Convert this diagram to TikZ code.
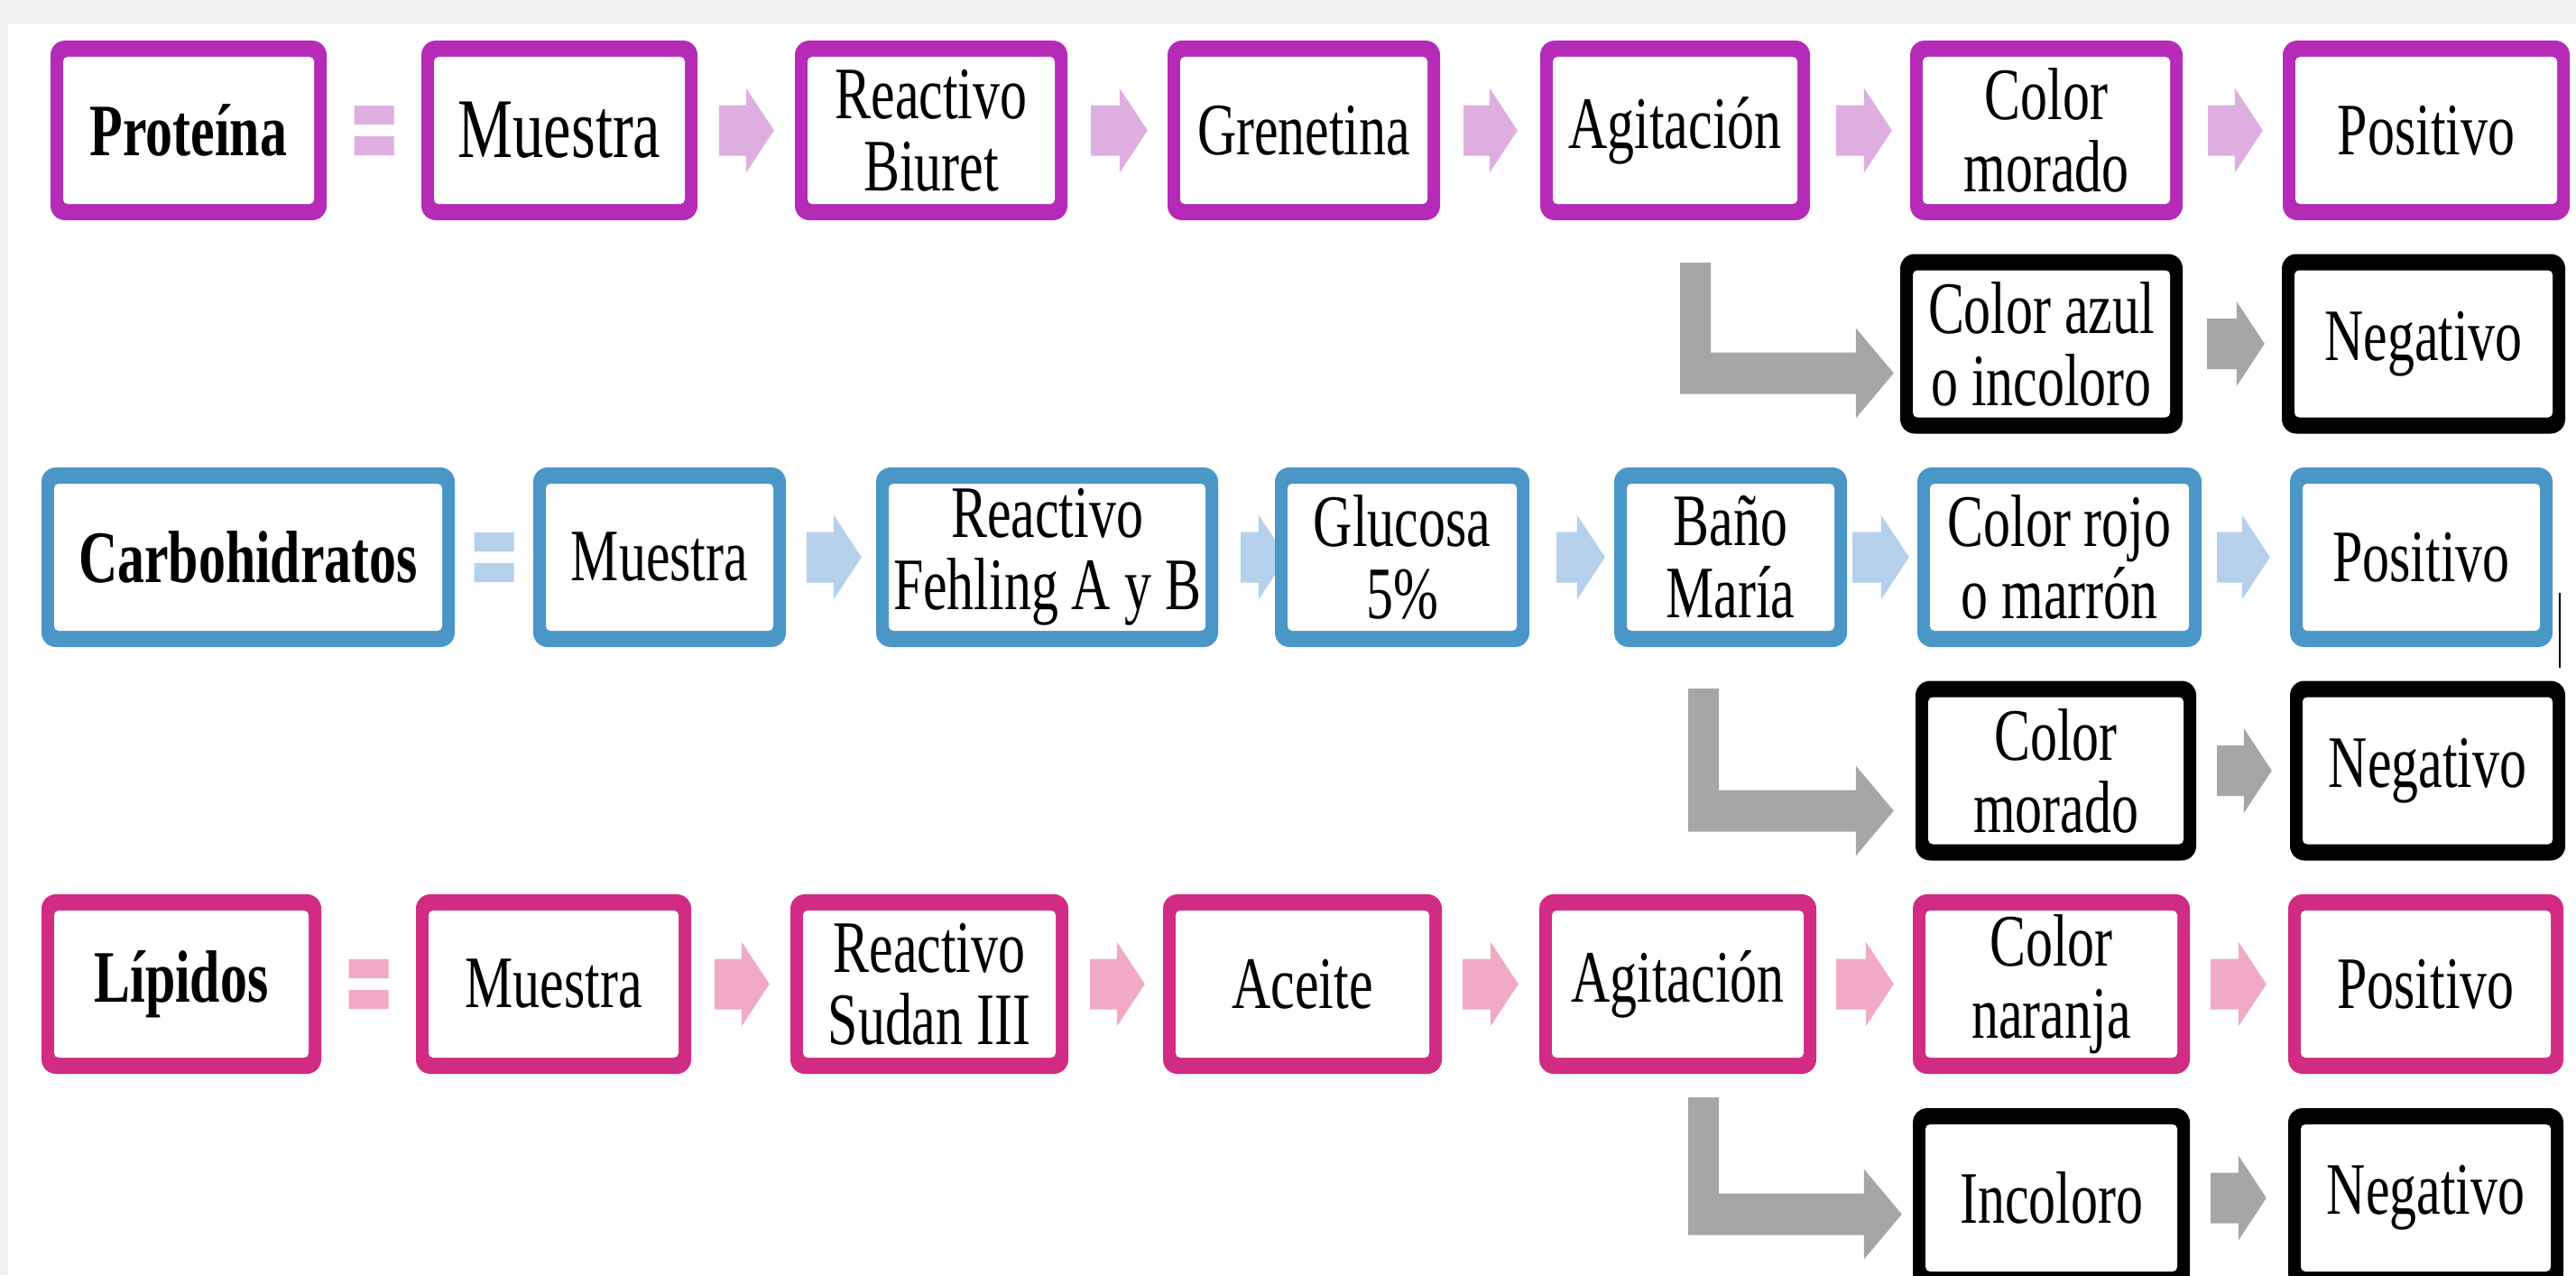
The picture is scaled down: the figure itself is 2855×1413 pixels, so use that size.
\documentclass[tikz,border=0pt]{standalone}
\usepackage{fontspec}
\setmainfont{Liberation Serif}[FakeStretch=0.73]
\usetikzlibrary{calc}
\definecolor{colP}{RGB}{181, 43, 184}
\definecolor{flP}{RGB}{223, 174, 224}
\definecolor{colC}{RGB}{74, 150, 198}
\definecolor{flC}{RGB}{180, 208, 235}
\definecolor{colL}{RGB}{210, 43, 131}
\definecolor{flL}{RGB}{240, 170, 200}
\definecolor{gris}{RGB}{166, 166, 166}
\definecolor{fondo}{RGB}{242, 242, 242}
\pgfdeclarelayer{fondo}
\pgfdeclarelayer{back}
\pgfsetlayers{fondo,back,main}

% flecha gruesa: estilo, desde, hasta
\newcommand{\flecha}[3]{%
  \fill[#1] let \p1=(#2), \p2=(#3) in
    (\x1,\y1+28pt) -- (\x2-31pt,\y1+28pt) -- (\x2-31pt,\y1+47pt) -- (\x2,\y2)
    -- (\x2-31pt,\y1-47pt) -- (\x2-31pt,\y1-28pt) -- (\x1,\y1-28pt) -- cycle;}
% flecha en L: estilo, esquina, punta
\newcommand{\flechaL}[3]{%
  \fill[#1] let \p1=(#2), \p2=(#3) in
    (\x1,\y1) -- (\x1+34pt,\y1) -- (\x1+34pt,\y2+23pt) -- (\x2-42pt,\y2+23pt)
    -- (\x2-42pt,\y2+50pt) -- (\x2,\y2) -- (\x2-42pt,\y2-50pt)
    -- (\x2-42pt,\y2-23pt) -- (\x1,\y2-23pt) -- cycle;}
% signo igual entre dos cajas
\newcommand{\igual}[3]{%
  \fill[#1] let \p1=($(#2.east)!.5!(#3.west)$) in
    (\x1-22pt,\y1+6.5pt) rectangle (\x1+22pt,\y1+27.5pt)
    (\x1-22pt,\y1-6.5pt) rectangle (\x1+22pt,\y1-27.5pt);}

\begin{document}
\begin{tikzpicture}[x=1pt, y=-1pt,
    caja/.style={rounded corners=16pt, fill=#1, minimum height=199pt, inner sep=0pt,
      align=center, font=\fontsize{82pt}{80pt}\selectfont,
      path picture={\fill[white, rounded corners=5pt]
        ([xshift=14pt,yshift=-18pt]path picture bounding box.north west) rectangle
        ([xshift=-14pt,yshift=18pt]path picture bounding box.south east);}}]
            \useasboundingbox (0,0) rectangle (2855,1413);
            \clip (0,0) rectangle (2855,1413);
            \begin{pgfonlayer}{fondo}
                \fill[fondo] (0,0) rectangle (2855,1413);
                \fill[white] (9,27) rectangle (2855,1413);
            \end{pgfonlayer}

            % Proteína
            \node[caja=colP, minimum width=306pt] (prot) at (209,144.5) {\textbf{Proteína}};
            \node[caja=colP, minimum width=306pt, font=\fontsize{94pt}{90pt}\selectfont] (mue1) at (620,144.5) {Muestra};
            \node[caja=colP, minimum width=302pt] (biu) at (1032,144.5) {Reactivo\\Biuret};
            \node[caja=colP, minimum width=302pt] (gre) at (1445,144.5) {Grenetina};
            \node[caja=colP, minimum width=299pt] (agi1) at (1856.5,144.5) {Agitación};
            \node[caja=colP, minimum width=302pt] (mor1) at (2268,144.5) {Color\\morado};
            \node[caja=colP, minimum width=318pt] (pos1) at (2689,144.5) {Positivo};
            \node[caja=black, minimum width=313pt] (azul) at (2262.5,381) {Color azul\\o incoloro};
            \node[caja=black, minimum width=314pt] (neg1) at (2686,381) {Negativo};

            % Carbohidratos
            \node[caja=colC, minimum width=458pt] (carb) at (275,617.5) {\textbf{Carbohidratos}};
            \node[caja=colC, minimum width=280pt] (mue2) at (731,617.5) {Muestra};
            \node[caja=colC, minimum width=379pt] (feh) at (1160.5,617.5) {Reactivo\\Fehling A y B};
            \node[caja=colC, minimum width=282pt] (glu) at (1554,617.5) {Glucosa\\5\%};
            \node[caja=colC, minimum width=258pt] (ban) at (1918,617.5) {Baño\\María};
            \node[caja=colC, minimum width=315pt] (roj) at (2282.5,617.5) {Color rojo\\o marrón};
            \node[caja=colC, minimum width=291pt] (pos2) at (2683.5,617.5) {Positivo};
            \node[caja=black, minimum width=311pt] (mor2) at (2278.5,854) {Color\\morado};
            \node[caja=black, minimum width=305pt] (neg2) at (2690.5,854) {Negativo};

            % Lípidos
            \node[caja=colL, minimum width=310pt] (lip) at (201,1090.5) {\textbf{Lípidos}};
            \node[caja=colL, minimum width=305pt] (mue3) at (613.5,1090.5) {Muestra};
            \node[caja=colL, minimum width=308pt] (sud) at (1030,1090.5) {Reactivo\\Sudan III};
            \node[caja=colL, minimum width=309pt] (ace) at (1443.5,1090.5) {Aceite};
            \node[caja=colL, minimum width=307pt] (agi3) at (1859.5,1090.5) {Agitación};
            \node[caja=colL, minimum width=307pt] (nar) at (2273.5,1090.5) {Color\\naranja};
            \node[caja=colL, minimum width=305pt] (pos3) at (2688.5,1090.5) {Positivo};
            \node[caja=black, minimum width=307pt] (inc) at (2273.5,1327.5) {Incoloro};
            \node[caja=black, minimum width=305pt] (neg3) at (2688.5,1327.5) {Negativo};

            \coordinate (l1) at (1862,291);
            \coordinate (l2) at (1871,763);
            \coordinate (l3) at (1871,1216);

            % Flechas
            \begin{pgfonlayer}{back}
                \igual{flP}{prot}{mue1}
                \flecha{flP}{[xshift=24pt]mue1.east}{[xshift=-23pt]biu.west}
                \flecha{flP}{[xshift=26pt]biu.east}{[xshift=-22pt]gre.west}
                \flecha{flP}{[xshift=26pt]gre.east}{[xshift=-25pt]agi1.west}
                \flecha{flP}{[xshift=29pt]agi1.east}{[xshift=-20pt]mor1.west}
                \flecha{flP}{[xshift=28pt]mor1.east}{[xshift=-22pt]pos1.west}
                \flechaL{gris}{l1}{[xshift=-7pt,yshift=-32.5pt]azul.west}
                \flecha{gris}{[xshift=27pt]azul.east}{[xshift=-19pt]neg1.west}

                \igual{flC}{carb}{mue2}
                \flecha{flC}{[xshift=23pt]mue2.east}{[xshift=-16pt]feh.west}
                \flecha{flC}{[xshift=25pt]feh.east}{[xshift=13pt]glu.west}
                \flecha{flC}{[xshift=30pt]glu.east}{[xshift=-10pt]ban.west}
                \flecha{flC}{[xshift=6pt]ban.east}{[xshift=-9pt]roj.west}
                \flecha{flC}{[xshift=17pt]roj.east}{[xshift=-22pt]pos2.west}
                \flechaL{gris}{l2}{[xshift=-24pt,yshift=-44.5pt]mor2.west}
                \flecha{gris}{[xshift=23pt]mor2.east}{[xshift=-20pt]neg2.west}

                \igual{flL}{lip}{mue3}
                \flecha{flL}{[xshift=26pt]mue3.east}{[xshift=-23pt]sud.west}
                \flecha{flL}{[xshift=24pt]sud.east}{[xshift=-20pt]ace.west}
                \flecha{flL}{[xshift=23pt]ace.east}{[xshift=-23pt]agi3.west}
                \flecha{flL}{[xshift=22pt]agi3.east}{[xshift=-21pt]nar.west}
                \flecha{flL}{[xshift=23pt]nar.east}{[xshift=-24pt]pos3.west}
                \flechaL{gris}{l3}{[xshift=-12pt,yshift=-18pt]inc.west}
                \flecha{gris}{[xshift=23pt]inc.east}{[xshift=-24pt]neg3.west}
            \end{pgfonlayer}

            \draw[line width=2pt] (2837,657) -- (2837,740);
        \end{tikzpicture}
\end{document}
